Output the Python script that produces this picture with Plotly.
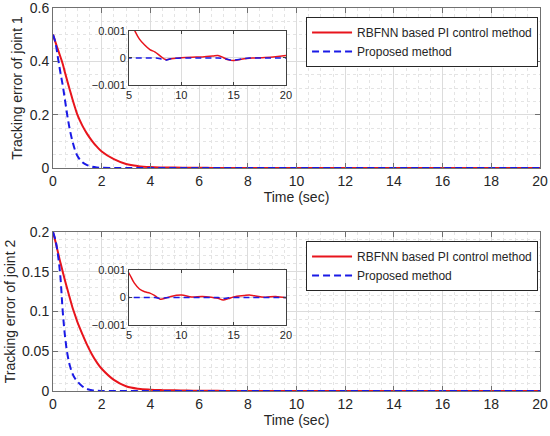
import plotly.graph_objects as go

# time (sec)
t = [0, 0.1, 0.2, 0.3, 0.4, 0.5, 0.6, 0.7, 0.8, 0.9, 1.0, 1.2, 1.4, 1.6, 1.8, 2.0,
     2.5, 3.0, 3.5, 4.0, 4.5, 5.0, 5.5, 6.0, 6.5, 7.0, 7.5, 8.0, 8.5, 9.0, 10.0,
     11.0, 12.0, 13.0, 13.5, 14.0, 14.5, 15.0, 16.0, 16.5, 17.0, 18.0, 19.0, 20.0]

# joint 1 tracking error
e1_pi = [0.5, 0.472, 0.445, 0.418, 0.39, 0.355, 0.322, 0.29, 0.258, 0.228, 0.2, 0.16,
         0.128, 0.102, 0.08, 0.062, 0.033, 0.015, 0.007, 0.0035, 0.0022, 0.0015,
         0.00105, 0.0007, 0.00048, 0.00031, 0.00022, 0.00007, -0.00006, -0.00003,
         0.00001, 0.00003, 0.00004, 0.00007, 0.00009, 0.00002, -0.00007, -0.00009,
         -0.00003, -0.00001, 0.0, 0.00002, 0.00005, 0.00009]
e1_prop = [0.5, 0.47, 0.415, 0.36, 0.31, 0.25, 0.19, 0.14, 0.1, 0.068, 0.046, 0.022,
           0.011, 0.005, 0.002, 0.0008, 0.0002, 0.00005, 0, 0, 0, 0, 0, 0, 0, 0, 0,
           -0.00003, -0.00008, -0.00003, 0, 0, 0, 0, 0, -0.00002, -0.00006, -0.00008,
           -0.00002, 0, 0, 0, 0, 0]

# joint 2 tracking error
e2_pi = [0.2, 0.188, 0.175, 0.162, 0.15, 0.138, 0.127, 0.116, 0.105, 0.096, 0.087,
         0.072, 0.058, 0.046, 0.036, 0.028, 0.014, 0.006, 0.0028, 0.0016, 0.0011,
         0.00088, 0.00053, 0.00031, 0.00021, 0.00016, 0.00006, -0.00006, -0.00002,
         0.00004, 0.00009, 0.00002, 0.00004, 0.0, -0.00003, -0.00009, -0.00004,
         0.00002, 0.00007, 0.00009, 0.00006, 0.00001, 0.00004, -0.00001]
e2_prop = [0.2, 0.19, 0.172, 0.145, 0.1, 0.067, 0.045, 0.031, 0.022, 0.016, 0.012,
           0.006, 0.0025, 0.0009, 0.0003, 0.0001, 0, 0, 0, 0, 0, 0, 0, 0, 0, 0, 0,
           -0.00004, -0.00001, 0, 0, 0, 0, 0, 0, -0.00004, -0.00001, 0, 0, 0, 0, 0, 0, 0]

names = ["RBFNN based PI control method", "Proposed method"]
y1_ticks = [0, 0.2, 0.4, 0.6]
y2_ticks = [0, 0.05, 0.1, 0.15, 0.2]
inset_ticks = [-0.001, 0, 0.001]
inset_ticktext = ["\u22120.001", "0", "0.001"]

RED = "#e8141c"
BLUE = "#1a1ae6"
FONT = "Liberation Sans, Arial, sans-serif"
TXT = "#262626"

fig = go.Figure()

# main plots + insets
for (pi, prop, xa, ya, xi, yi, lg) in [(e1_pi, e1_prop, "x", "y", "x2", "y2", "legend"),
                                       (e2_pi, e2_prop, "x3", "y3", "x4", "y4", "legend2")]:
    fig.add_trace(go.Scatter(x=t, y=pi, name=names[0], mode="lines", xaxis=xa, yaxis=ya,
                             line=dict(color=RED, width=2, shape="spline"), legend=lg))
    fig.add_trace(go.Scatter(x=t, y=prop, name=names[1], mode="lines", xaxis=xa, yaxis=ya,
                             line=dict(color=BLUE, width=2, dash="7px,4px", shape="spline"),
                             legend=lg))
    fig.add_trace(go.Scatter(x=t, y=pi, mode="lines", xaxis=xi, yaxis=yi, showlegend=False,
                             line=dict(color=RED, width=1.5, shape="spline")))
    fig.add_trace(go.Scatter(x=t, y=prop, mode="lines", xaxis=xi, yaxis=yi, showlegend=False,
                             line=dict(color=BLUE, width=1.5, dash="6px,4px", shape="spline")))

main_ax = dict(showline=True, linecolor="#707070", linewidth=1, mirror="ticks",
               ticks="inside", ticklen=5, tickcolor="#707070",
               showgrid=True, gridcolor="#dcdcdc", gridwidth=1, zeroline=False,
               tickfont=dict(size=14, color=TXT, family=FONT), automargin=False,
               ticklabeloverflow="allow")
inset_ax = dict(showline=True, linecolor="#404040", linewidth=1, mirror="ticks",
                ticks="inside", ticklen=3, tickcolor="#404040",
                showgrid=True, gridcolor="#dcdcdc", zeroline=False,
                tickfont=dict(size=11, color=TXT, family=FONT), automargin=False)
minor_x = dict(dtick=0.5, showgrid=True, gridcolor="#e4e4e4", griddash="dot", ticks="")

legend_style = dict(xanchor="right", yanchor="top", bgcolor="white", itemwidth=40,
                    bordercolor="#262626", borderwidth=1, font=dict(size=12, color=TXT),
                    tracegroupgap=0)

fig.update_layout(
    width=550, height=436,
    margin=dict(l=53, r=10, t=8, b=45),
    paper_bgcolor="white", plot_bgcolor="white",
    font=dict(family=FONT, color=TXT),
    xaxis=dict(main_ax, domain=[0, 1], range=[0, 20], dtick=2, anchor="y", minor=minor_x,
               title=dict(text="Time (sec)", font=dict(size=14), standoff=4)),
    yaxis=dict(main_ax, domain=[0.5822, 1.0], range=[0, 0.6], tickvals=y1_ticks, anchor="x",
               minor=dict(dtick=0.05, showgrid=True, gridcolor="#e4e4e4", griddash="dot", ticks=""),
               title=dict(text="Tracking error of joint 1", font=dict(size=14), standoff=3)),
    xaxis2=dict(inset_ax, domain=[0.156, 0.4784], range=[5, 20], tickvals=[5, 10, 15, 20],
                anchor="y2"),
    yaxis2=dict(inset_ax, domain=[0.799, 0.94], range=[-0.001, 0.001], tickvals=inset_ticks,
                ticktext=inset_ticktext, anchor="x2"),
    xaxis3=dict(main_ax, domain=[0, 1], range=[0, 20], dtick=2, anchor="y3", minor=minor_x,
                title=dict(text="Time (sec)", font=dict(size=14), standoff=4)),
    yaxis3=dict(main_ax, domain=[0, 0.4151], range=[0, 0.2], tickvals=y2_ticks, anchor="x3",
                minor=dict(dtick=0.01, showgrid=True, gridcolor="#e4e4e4", griddash="dot", ticks=""),
                title=dict(text="Tracking error of joint 2", font=dict(size=14), standoff=3)),
    xaxis4=dict(inset_ax, domain=[0.156, 0.4784], range=[5, 20], tickvals=[5, 10, 15, 20],
                anchor="y4"),
    yaxis4=dict(inset_ax, domain=[0.1723, 0.3159], range=[-0.001, 0.001], tickvals=inset_ticks,
                ticktext=inset_ticktext, anchor="x4"),
    legend=dict(legend_style, x=0.996, y=0.9765),
    legend2=dict(legend_style, x=0.996, y=0.3916),
)

# page body has an 8px default margin, drop it so the figure sits at the corner
fig.write_html("out.html", config={"displayModeBar": False},
               post_script="document.body.style.margin='0px';")
